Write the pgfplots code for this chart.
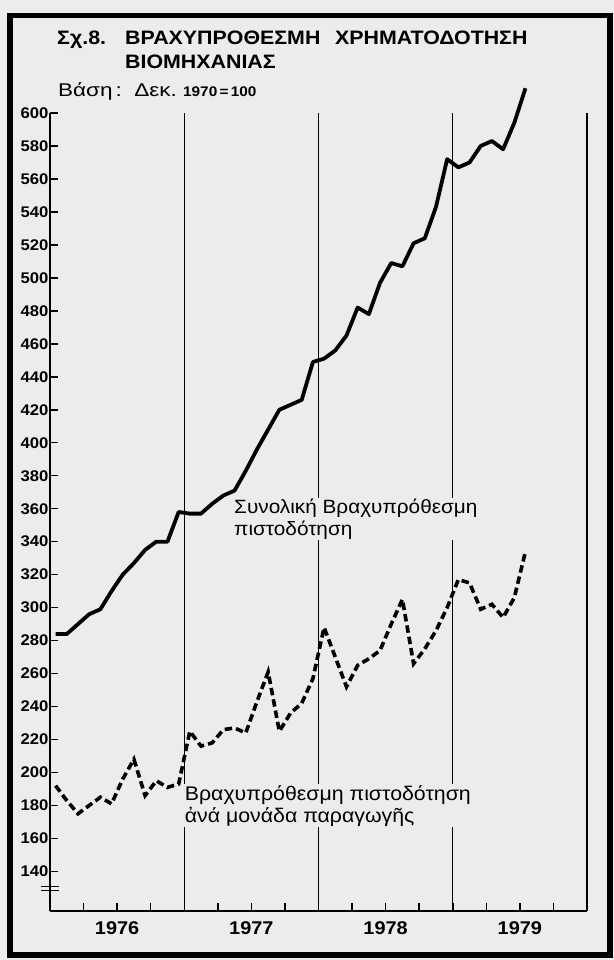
\documentclass[border=0pt]{standalone}
\usepackage{fontspec}
\setmainfont{Liberation Sans}[FakeStretch=1.08]
\newfontfamily\widefont{Liberation Sans}[FakeStretch=1.1]
\newfontfamily\basefont{Liberation Sans}[FakeStretch=1.22]
\usepackage{pgfplots}
\usepackage{pgfplotstable}
\pgfplotsset{compat=1.18}
\definecolor{paper}{RGB}{236,236,236}

% x = month index (Jan 1976 = 0.5), t = total short-term credit, u = short-term credit per unit of production
\pgfplotstableread{
x t u
0.5 284 192
1.5 284 183
2.5 290 175
3.5 296 180
4.5 299 185
5.5 310 181
6.5 320 196
7.5 327 208
8.5 335 186
9.5 340 195
10.5 340 191
11.5 358 193
12.5 357 225
13.5 357 216
14.5 363 218
15.5 368 226
16.5 371 227
17.5 383 224
18.5 396 243
19.5 408 261
20.5 420 225
21.5 423 236
22.5 426 242
23.5 449 257
24.5 451 288
25.5 456 270
26.5 465 252
27.5 482 265
28.5 478 269
29.5 497 274
30.5 509 290
31.5 507 305
32.5 521 266
33.5 524 275
34.5 543 286
35.5 572 300
36.5 567 317
37.5 570 315
38.5 580 299
39.5 583 302
40.5 578 294
41.5 594 306
42.5 615 334
}\data

\begin{document}
\begin{tikzpicture}
\fill[paper] (0bp,0bp) rectangle (614bp,960bp);
\useasboundingbox (0bp,0bp) rectangle (614bp,960bp);
\draw[line width=5.5bp] (10bp,5bp) rectangle (610bp,944.5bp);
\begin{scope}[every node/.style={anchor=base west, inner sep=0pt, font=\widefont\fontsize{19.5}{22}\selectfont\bfseries}]
\node at (57bp,915bp) {Σχ.8.};
\node at (125bp,915bp) {ΒΡΑΧΥΠΡΟΘΕΣΜΗ};
\node at (335bp,915bp) {ΧΡΗΜΑΤΟΔΟΤΗΣΗ};
\node at (125bp,891.7bp) {ΒΙΟΜΗΧΑΝΙΑΣ};
\end{scope}
\node[anchor=base west, inner sep=0pt, font=\basefont\fontsize{18.5}{21}\selectfont] at (58bp,863bp) {Βάση\,:\ \ Δεκ.\ {\widefont\fontsize{14}{16}\selectfont\bfseries 1970\,=\,100}};
\begin{axis}[
  at={(50bp,49bp)}, anchor=south west,
  scale only axis, width=537bp, height=798bp,
  xmin=0, xmax=48, ymin=116, ymax=600,
  axis x line*=bottom, axis y line*=left,
  axis line style={line width=1.8bp, black},
  xtick={0,3,...,48},
  xticklabels={,,1976,,,,1977,,,,1978,,,,1979},
  ytick={140,160,...,600},
  tick align=inside, major tick length=8bp,
  tick style={line width=1.5bp, black},
  extra x ticks={12,24,36,48}, extra x tick labels={},
  extra x tick style={grid=major, major grid style={line width=1.3bp, black}},
  /pgf/number format/assume math mode=true,
  yticklabel style={font=\fontsize{15.5}{15.5}\selectfont\bfseries, xshift=2bp},
  xticklabel style={font=\fontsize{18.5}{18.5}\selectfont\bfseries, yshift=-7bp},
  clip=false,
]
\addplot[black, line width=3.8bp, line join=round] table[x=x, y=t] {\data};
\addplot[black, line width=3.6bp, dash pattern=on 7.5bp off 4bp] table[x=x, y=u] {\data};
\draw[line width=1.5bp] (axis cs:-0.8,128.3) -- (axis cs:0.8,128.3);
\draw[line width=1.5bp] (axis cs:-0.8,130.8) -- (axis cs:0.8,130.8);
\node[anchor=north west, align=left, fill=paper, inner xsep=1bp, inner ysep=1bp, font=\fontsize{19.3}{21.5}\selectfont] at (axis cs:16.36,366.5) {Συνολική Βραχυπρόθεσμη\\πιστοδότηση};
\node[anchor=north west, align=left, fill=paper, inner xsep=1bp, inner ysep=1bp, font=\fontsize{19.8}{22}\selectfont] at (axis cs:11.95,193.0) {Βραχυπρόθεσμη πιστοδότηση\\ἀνά μονάδα παραγωγῆς};
\end{axis}
\end{tikzpicture}
\end{document}
